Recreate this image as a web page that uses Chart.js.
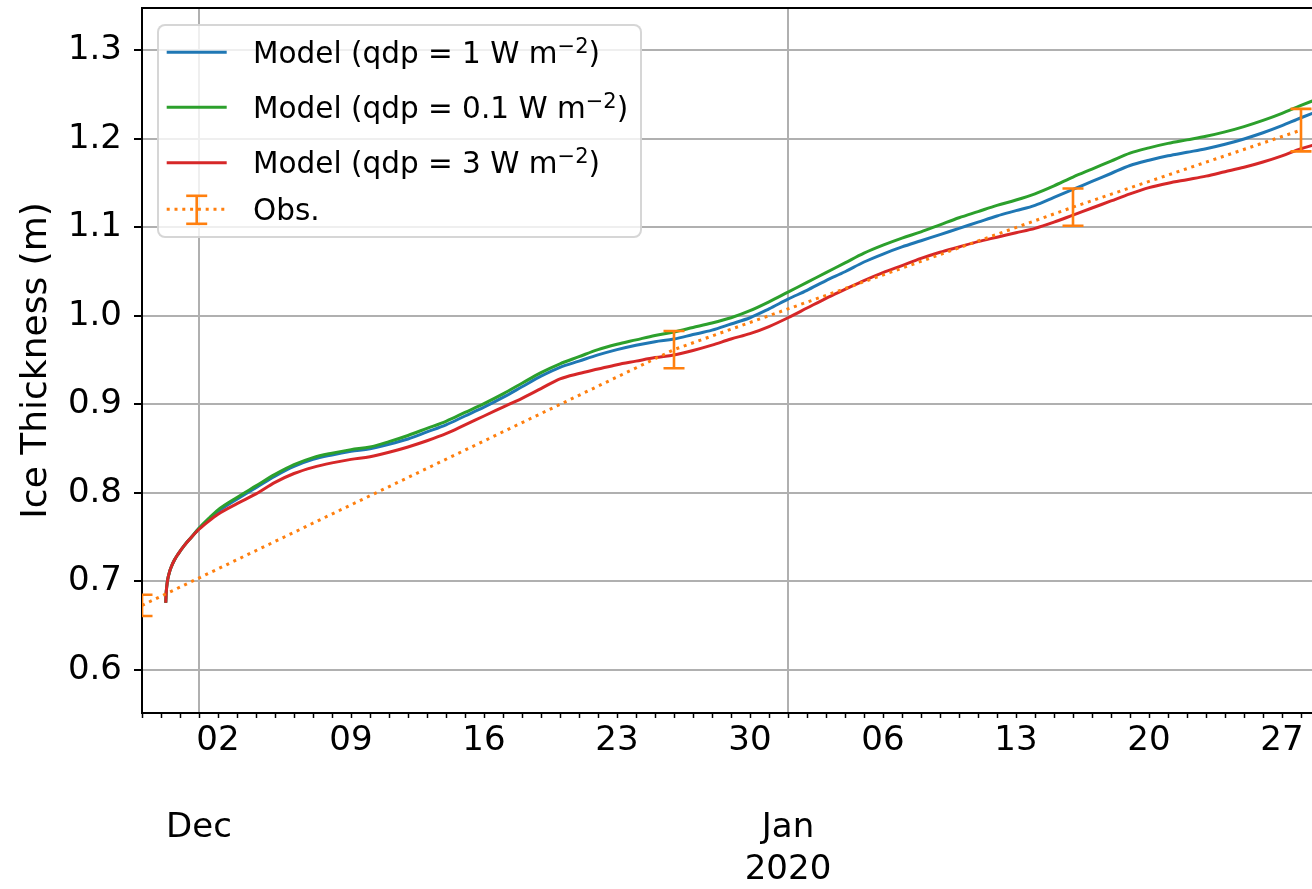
<!DOCTYPE html>
<html>
<head>
<meta charset="utf-8">
<script src="https://cdn.jsdelivr.net/npm/chart.js@4.4.1/dist/chart.umd.min.js"></script>
<style>
html,body{margin:0;padding:0;background:#fff;overflow:hidden;width:1312px;height:889px;}
#wrap{position:relative;width:1312px;height:889px;overflow:hidden;}
#c{position:absolute;left:0;top:0;}
#legend{position:absolute;left:157px;top:24px;width:485px;height:214px;box-sizing:border-box;
  background:rgba(255,255,255,0.8);border:2px solid rgba(204,204,204,0.8);border-radius:8px;
  font-family:'DejaVu Sans';font-size:29.5px;color:#000;}
#legend .row{position:absolute;left:94px;white-space:nowrap;line-height:30px;height:30px;}
#legend .sup{font-size:21px;line-height:0;vertical-align:10px;}
#legend svg{position:absolute;left:0;top:0;}
</style>
</head>
<body>
<div id="wrap">
  <canvas id="c" width="1339" height="889" style="width:1339px;height:889px;"></canvas>
  <div id="legend"></div>
</div>
<script>
// ---------------- DATA (days since 1 Dec 2019 00:00) ----------------
const modelDays = [-1.75, -1.73, -1.7, -1.65, -1.55, -1.45, -1.3, -1.1, -0.8, -0.4, 0, 0.5, 1,
  2, 3, 4, 5, 6, 7, 8, 9, 10, 11, 12, 13, 14, 15, 16, 17, 18, 19, 20,
  21, 22, 23, 24, 25, 26, 27, 28, 29, 30, 31, 32, 33, 34, 35, 36, 37, 38, 39, 40,
  41, 42, 43, 44, 45, 46, 47, 48, 49, 50, 51, 52, 53, 54, 55, 56, 57, 58, 59, 60];

const modelQdp1 = [0.676, 0.686, 0.694, 0.702, 0.711, 0.717, 0.724, 0.731, 0.740, 0.750, 0.760, 0.770, 0.779,
  0.793, 0.806, 0.819, 0.830, 0.838, 0.843, 0.847, 0.850, 0.855, 0.861, 0.869, 0.877, 0.887, 0.897, 0.908, 0.920, 0.932, 0.942, 0.949,
  0.956, 0.962, 0.967, 0.971, 0.974, 0.979, 0.984, 0.991, 0.998, 1.008, 1.019, 1.029, 1.040, 1.050, 1.061, 1.070, 1.078, 1.085, 1.092, 1.099,
  1.106, 1.113, 1.119, 1.125, 1.134, 1.143, 1.152, 1.161, 1.170, 1.176, 1.181, 1.185, 1.189, 1.194, 1.200, 1.207, 1.215, 1.224, 1.232, 1.239];

const modelQdp01 = [0.676, 0.686, 0.694, 0.702, 0.711, 0.717, 0.724, 0.731, 0.740, 0.750, 0.760, 0.771, 0.781,
  0.795, 0.808, 0.821, 0.832, 0.840, 0.845, 0.849, 0.852, 0.858, 0.865, 0.873, 0.881, 0.891, 0.901, 0.912, 0.924, 0.936, 0.946, 0.954,
  0.962, 0.968, 0.973, 0.978, 0.982, 0.987, 0.992, 0.998, 1.006, 1.016, 1.027, 1.038, 1.049, 1.060, 1.071, 1.080, 1.088, 1.095, 1.103, 1.111,
  1.118, 1.125, 1.131, 1.138, 1.147, 1.157, 1.166, 1.175, 1.184, 1.190, 1.195, 1.199, 1.203, 1.208, 1.214, 1.221, 1.229, 1.238, 1.246, 1.253];

const modelQdp3 = [0.676, 0.686, 0.694, 0.702, 0.711, 0.717, 0.724, 0.731, 0.740, 0.750, 0.759, 0.768, 0.776,
  0.788, 0.799, 0.812, 0.822, 0.829, 0.834, 0.838, 0.841, 0.846, 0.852, 0.859, 0.867, 0.877, 0.887, 0.897, 0.907, 0.918, 0.929, 0.935,
  0.940, 0.945, 0.949, 0.953, 0.956, 0.961, 0.967, 0.974, 0.980, 0.988, 0.998, 1.009, 1.020, 1.030, 1.040, 1.049, 1.057, 1.065, 1.072, 1.078,
  1.084, 1.089, 1.094, 1.099, 1.106, 1.114, 1.122, 1.130, 1.138, 1.145, 1.150, 1.154, 1.158, 1.163, 1.168, 1.174, 1.181, 1.189, 1.195, 1.200];

const obsDays = [-3, 25, 46, 58];
const obsThickness = [0.673, 0.962, 1.123, 1.210];
const obsError = [0.012, 0.021, 0.021, 0.024];

const seriesLabels = ['Model (qdp = 1 W m⁻²)', 'Model (qdp = 0.1 W m⁻²)', 'Model (qdp = 3 W m⁻²)', 'Obs.'];
const seriesColors = ['#1f77b4', '#2ca02c', '#d62728', '#ff7f0e'];

const dayTickValues = [1, 8, 15, 22, 29, 36, 43, 50, 57];
const dayTickLabels = ['02', '09', '16', '23', '30', '06', '13', '20', '27'];
const monthTickValues = [0, 31];
const monthTickLabels = [['Dec'], ['Jan', '2020']];
const yTickValues = [0.6, 0.7, 0.8, 0.9, 1.0, 1.1, 1.2, 1.3];
const yAxisTitle = 'Ice Thickness (m)';

const xMin = -3, xMax = 60;
const yMin = 0.5514, yMax = 1.348;

// ---------------- CHART ----------------
const FONT = 'DejaVu Sans';
const dailyTicks = [];
for (let d = xMin; d <= xMax; d++) dailyTicks.push(d);

const errorBarPlugin = {
  id: 'errorBars',
  afterDatasetsDraw(chart) {
    const {ctx, chartArea, scales} = chart;
    const x = scales.x, y = scales.y;
    ctx.save();
    ctx.beginPath();
    ctx.rect(chartArea.left, chartArea.top, chartArea.right - chartArea.left, chartArea.bottom - chartArea.top);
    ctx.clip();
    ctx.strokeStyle = seriesColors[3];
    ctx.lineWidth = 2.6;
    const cap = 10.5;
    obsDays.forEach((d, i) => {
      const px = x.getPixelForValue(d);
      const top = y.getPixelForValue(obsThickness[i] + obsError[i]);
      const bot = y.getPixelForValue(obsThickness[i] - obsError[i]);
      ctx.beginPath();
      ctx.moveTo(px, top); ctx.lineTo(px, bot);
      ctx.moveTo(px - cap, top); ctx.lineTo(px + cap, top);
      ctx.moveTo(px - cap, bot); ctx.lineTo(px + cap, bot);
      ctx.stroke();
    });
    ctx.restore();
    // top spine
    ctx.save();
    ctx.strokeStyle = '#000';
    ctx.lineWidth = 2;
    ctx.beginPath();
    ctx.moveTo(chartArea.left - 1, chartArea.top);
    ctx.lineTo(chartArea.right, chartArea.top);
    ctx.stroke();
    ctx.restore();
  }
};

const toPoints = (xs, ys) => xs.map((d, i) => ({x: d, y: ys[i]}));

new Chart(document.getElementById('c'), {
  type: 'line',
  data: {
    datasets: [
      {label: seriesLabels[0], data: toPoints(modelDays, modelQdp1), borderColor: seriesColors[0],
       borderWidth: 3, pointRadius: 0, cubicInterpolationMode: 'monotone', fill: false, order: 4},
      {label: seriesLabels[1], data: toPoints(modelDays, modelQdp01), borderColor: seriesColors[1],
       borderWidth: 3, pointRadius: 0, cubicInterpolationMode: 'monotone', fill: false, order: 3},
      {label: seriesLabels[2], data: toPoints(modelDays, modelQdp3), borderColor: seriesColors[2],
       borderWidth: 3, pointRadius: 0, cubicInterpolationMode: 'monotone', fill: false, order: 2},
      {label: seriesLabels[3], data: toPoints(obsDays, obsThickness), borderColor: seriesColors[3],
       borderWidth: 3, borderDash: [3, 4.8], borderCapStyle: 'butt', pointRadius: 0, tension: 0, fill: false, order: 1}
    ]
  },
  options: {
    responsive: false,
    animation: false,
    devicePixelRatio: 1,
    events: [],
    layout: {padding: {top: 8, left: 0, right: 0, bottom: 0}},
    plugins: {legend: {display: false}, tooltip: {enabled: false}},
    scales: {
      x: {
        type: 'linear', position: 'bottom', min: xMin, max: xMax, weight: 0,
        afterBuildTicks: s => { s.ticks = dailyTicks.map(v => ({value: v})); },
        afterFit: s => { s.height = 60; s.paddingLeft = 0; s.paddingRight = 0; },
        grid: {drawOnChartArea: false, drawTicks: true, tickLength: 5, tickColor: '#000', tickWidth: 1.5},
        border: {display: true, color: '#000', width: 2},
        ticks: {
          autoSkip: false, maxRotation: 0, minRotation: 0, padding: 3, color: '#000',
          font: {family: FONT, size: 34},
          callback: v => { const i = dayTickValues.indexOf(v); return i >= 0 ? dayTickLabels[i] : ''; }
        }
      },
      x2: {
        type: 'linear', position: 'bottom', min: xMin, max: xMax, weight: 1,
        afterBuildTicks: s => { s.ticks = monthTickValues.map(v => ({value: v})); },
        afterFit: s => { s.height = 116; s.paddingLeft = 0; s.paddingRight = 0; },
        grid: {drawOnChartArea: true, drawTicks: false, color: '#b0b0b0', lineWidth: 2},
        border: {display: false},
        ticks: {
          autoSkip: false, maxRotation: 0, minRotation: 0, padding: 34, color: '#000',
          font: {family: FONT, size: 34, lineHeight: 42 / 34},
          callback: v => { const i = monthTickValues.indexOf(v); return i >= 0 ? monthTickLabels[i] : ''; }
        }
      },
      y: {
        type: 'linear', position: 'left', min: yMin, max: yMax,
        afterBuildTicks: s => { s.ticks = yTickValues.map(v => ({value: v})); },
        afterFit: s => { s.width = 142; s.paddingTop = 0; s.paddingBottom = 0; },
        grid: {color: '#b0b0b0', lineWidth: 2, drawTicks: true, tickLength: 8, tickColor: '#000', tickWidth: 2},
        border: {display: true, color: '#000', width: 2},
        ticks: {padding: 12, color: '#000', font: {family: FONT, size: 34}, callback: v => Number(v).toFixed(1)},
        title: {display: true, text: yAxisTitle, color: '#000', font: {family: FONT, size: 36}, padding: {top: 15, bottom: 0}}
      }
    }
  },
  plugins: [errorBarPlugin]
});

// ---------------- LEGEND (HTML overlay, real text) ----------------
(function buildLegend() {
  const el = document.getElementById('legend');
  const rowTops = [11.5, 66.5, 122, 169];
  const handleY = [26.3, 81.3, 136.7, 183.3];
  const hx1 = 7.7, hx2 = 67.7, hmid = 37.7;
  const ns = 'http://www.w3.org/2000/svg';
  const svg = document.createElementNS(ns, 'svg');
  svg.setAttribute('width', '481'); svg.setAttribute('height', '210');
  const mk = (tag, attrs) => { const e = document.createElementNS(ns, tag); for (const k in attrs) e.setAttribute(k, attrs[k]); svg.appendChild(e); return e; };
  seriesLabels.forEach((lab, i) => {
    const y = handleY[i];
    if (i < 3) {
      mk('line', {x1: hx1, x2: hx2, y1: y, y2: y, stroke: seriesColors[i], 'stroke-width': 3});
    } else {
      mk('line', {x1: hx1, x2: hx2, y1: y, y2: y, stroke: seriesColors[i], 'stroke-width': 3, 'stroke-dasharray': '3 4.8'});
      mk('line', {x1: hmid, x2: hmid, y1: y - 13.5, y2: y + 14.5, stroke: seriesColors[i], 'stroke-width': 2.6});
      mk('line', {x1: hmid - 10.5, x2: hmid + 10.5, y1: y - 13.5, y2: y - 13.5, stroke: seriesColors[i], 'stroke-width': 2.6});
      mk('line', {x1: hmid - 10.5, x2: hmid + 10.5, y1: y + 14.5, y2: y + 14.5, stroke: seriesColors[i], 'stroke-width': 2.6});
    }
    const row = document.createElement('div');
    row.className = 'row';
    row.style.top = rowTops[i] + 'px';
    const parts = lab.split('⁻²');
    row.appendChild(document.createTextNode(parts[0]));
    if (parts.length > 1) {
      const s = document.createElement('span');
      s.className = 'sup';
      s.textContent = '\u22122';
      row.appendChild(s);
      row.appendChild(document.createTextNode(parts[1]));
    }
    el.appendChild(row);
  });
  el.insertBefore(svg, el.firstChild);
})();
</script>
</body>
</html>
